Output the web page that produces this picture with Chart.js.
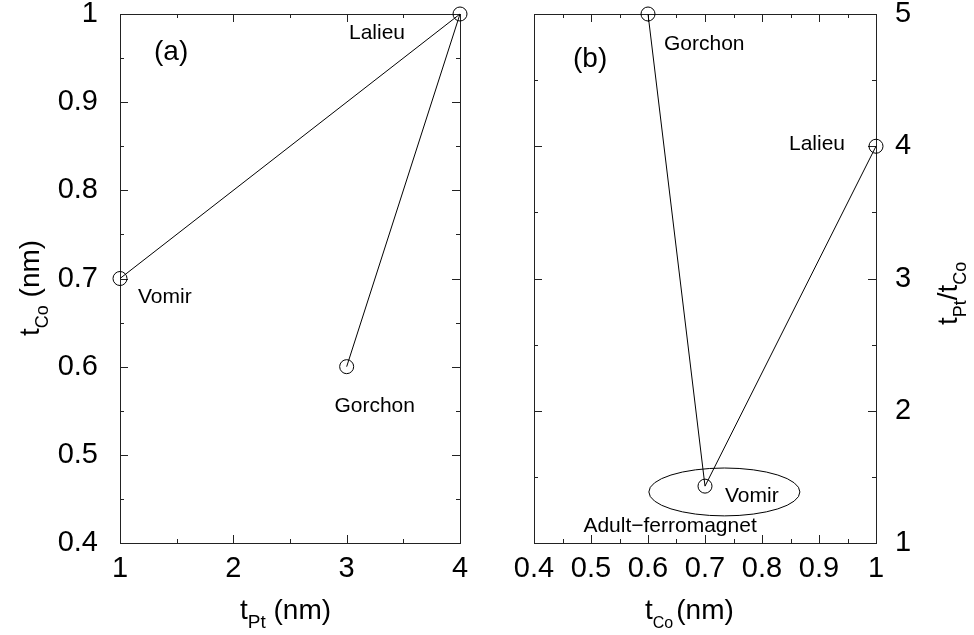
<!DOCTYPE html>
<html>
<head>
<meta charset="utf-8">
<script src="https://cdn.jsdelivr.net/npm/chart.js@4"></script>
<style>
  body { margin: 0; background: #fff; }
  #wrap { position: relative; width: 974px; height: 635px; }
  canvas { position: absolute; top: 0; }
  #chartA { left: 0; }
  #chartB { left: 487px; }
</style>
</head>
<body>
<div id="wrap">
  <canvas id="chartA" width="487" height="635"></canvas>
  <canvas id="chartB" width="487" height="635"></canvas>
</div>
<script>
// panel (a): t_Co against t_Pt
const aNames = ["Vomir", "Lalieu", "Gorchon"];
const aPt = [1, 4, 3];
const aCo = [0.7, 1.0, 0.6];
const aXTicks = [1, 2, 3, 4];
const aYTicks = [0.4, 0.5, 0.6, 0.7, 0.8, 0.9, 1];

// panel (b): t_Pt/t_Co against t_Co
const bNames = ["Gorchon", "Vomir", "Lalieu"];
const bCo = [0.6, 0.7, 1.0];
const bRatio = [5, 1.43, 4];
const bXTicks = [0.4, 0.5, 0.6, 0.7, 0.8, 0.9, 1];
const bYTicks = [1, 2, 3, 4, 5];

// region drawn round Vomir in (b), in data units
const regionLabel = "Adult\u2212ferromagnet";
const regionCentre = [0.734, 1.386];
const regionRadii = [0.1325, 0.181];

const FONT = '"Liberation Sans", Arial, Helvetica, sans-serif';

// text with subscripts: "_xx" is a subscript, a number is a gap in px
function richText(ctx, parts, x, y, size, subSize) {
    let cx = x;
    parts.forEach(p => {
        if (typeof p === "number") { cx += p; return; }
        const sub = p.startsWith("_");
        const txt = sub ? p.slice(1) : p;
        ctx.font = (sub ? subSize : size) + "px " + FONT;
        ctx.fillText(txt, cx, sub ? y + 9 : y);
        cx += ctx.measureText(txt).width;
    });
}

function drawTicks(ctx, scale, area, isX) {
    const vals = scale.ticks.map(t => t.value);
    const minor = [];
    for (let i = 0; i < vals.length - 1; i++) minor.push((vals[i] + vals[i + 1]) / 2);
    const one = (v, len) => {
        const p = Math.round(scale.getPixelForValue(v)) + 0.5;
        ctx.beginPath();
        if (isX) {
            ctx.moveTo(p, area.bottom); ctx.lineTo(p, area.bottom - len);
            ctx.moveTo(p, area.top); ctx.lineTo(p, area.top + len);
        } else {
            ctx.moveTo(area.left, p); ctx.lineTo(area.left + len, p);
            ctx.moveTo(area.right, p); ctx.lineTo(area.right - len, p);
        }
        ctx.stroke();
    };
    vals.forEach(v => one(v, 8));
    minor.forEach(v => one(v, 4));
}

function decor(cfg) {
    return {
        id: "decor",
        beforeDatasetsDraw(chart) {
            const ctx = chart.ctx, a = chart.chartArea;
            ctx.save();
            ctx.strokeStyle = "#222";
            ctx.lineWidth = 1;
            ctx.strokeRect(a.left + 0.5, a.top + 0.5, a.right - a.left, a.bottom - a.top);
            drawTicks(ctx, chart.scales.x, a, true);
            drawTicks(ctx, chart.scales.y, a, false);
            if (cfg.ellipse) {
                const sx = chart.scales.x, sy = chart.scales.y;
                const cx = sx.getPixelForValue(regionCentre[0]);
                const cy = sy.getPixelForValue(regionCentre[1]);
                const rx = sx.getPixelForValue(regionCentre[0] + regionRadii[0]) - cx;
                const ry = cy - sy.getPixelForValue(regionCentre[1] + regionRadii[1]);
                ctx.strokeStyle = "#000";
                ctx.beginPath();
                ctx.ellipse(cx, cy, rx, ry, 0, 0, Math.PI * 2);
                ctx.stroke();
                ctx.fillStyle = "#000";
                ctx.font = "21px " + FONT;
                ctx.textAlign = "left";
                ctx.fillText(regionLabel, cx - 141, cy + 40);
            }
            ctx.restore();
        },
        afterDraw(chart) {
            const ctx = chart.ctx, a = chart.chartArea;
            const meta = chart.getDatasetMeta(0);
            ctx.save();
            ctx.fillStyle = "#000";
            ctx.textBaseline = "alphabetic";
            // point names
            ctx.font = "21px " + FONT;
            cfg.names.forEach((n, i) => {
                const pt = meta.data[i];
                const o = cfg.offsets[n];
                ctx.textAlign = o[2];
                ctx.fillText(n, pt.x + o[0], pt.y + o[1]);
            });
            // panel tag
            ctx.textAlign = "left";
            ctx.font = "28px " + FONT;
            ctx.fillText(cfg.tag, a.left + cfg.tagPos[0], a.top + cfg.tagPos[1]);
            // x title
            richText(ctx, cfg.xTitle, cfg.xTitlePos[0], cfg.xTitlePos[1], 28, cfg.xSub);
            // y title, rotated
            ctx.translate(cfg.yTitlePos[0], cfg.yTitlePos[1]);
            ctx.rotate(-Math.PI / 2);
            richText(ctx, cfg.yTitle, 0, 0, 28, 18);
            ctx.restore();
        }
    };
}

function tickAxis(list, size, pad) {
    return {
        type: "linear",
        min: list[0],
        max: list[list.length - 1],
        afterBuildTicks: s => { s.ticks = list.map(v => ({ value: v })); },
        afterFit: s => {
            if (s.isHorizontal()) s.height = size; else s.width = size;
            // keep the plot box where the layout padding puts it
            s.paddingLeft = s.paddingRight = s.paddingTop = s.paddingBottom = 0;
        },
        grid: { display: false, drawTicks: false },
        border: { display: false },
        ticks: {
            color: "#000",
            font: { family: FONT, size: 29 },
            padding: pad,
            callback: v => String(v),
            maxRotation: 0,
            autoSkip: false
        }
    };
}

function lineSet(xs, ys) {
    return {
        data: xs.map((x, i) => ({ x: x, y: ys[i] })),
        showLine: true,
        borderColor: "#000",
        borderWidth: 1,
        tension: 0,
        pointRadius: 7,
        pointBorderWidth: 1,
        pointBorderColor: "#000",
        pointBackgroundColor: "rgba(0,0,0,0)",
        clip: false
    };
}

const common = {
    responsive: false,
    animation: false,
    events: [],
    plugins: { legend: { display: false }, tooltip: { enabled: false } }
};

const yA = tickAxis(aYTicks, 120, 22);
yA.position = "left";

new Chart(document.getElementById("chartA"), {
    type: "scatter",
    data: { datasets: [lineSet(aPt, aCo)] },
    options: Object.assign({}, common, {
        layout: { padding: { top: 14, right: 27, left: 0, bottom: 0 } },
        scales: { x: tickAxis(aXTicks, 92, 9), y: yA }
    }),
    plugins: [decor({
        names: aNames,
        offsets: { Vomir: [18, 24, "left"], Lalieu: [-55, 25, "right"], Gorchon: [28, 45, "center"] },
        tag: "(a)", tagPos: [34, 46],
        xTitle: ["t", "_Pt", " (nm)"], xTitlePos: [240, 619], xSub: 19,
        yTitle: ["t", "_Co", " (nm)"], yTitlePos: [39, 336]
    })]
});

const yB = tickAxis(bYTicks, 98, 19);
yB.position = "right";

new Chart(document.getElementById("chartB"), {
    type: "scatter",
    data: { datasets: [lineSet(bCo, bRatio)] },
    options: Object.assign({}, common, {
        layout: { padding: { top: 14, right: 0, left: 47, bottom: 0 } },
        scales: { x: tickAxis(bXTicks, 92, 9), y: yB }
    }),
    plugins: [decor({
        names: bNames,
        offsets: { Gorchon: [16, 36, "left"], Lalieu: [-31, 4, "right"], Vomir: [20, 16, "left"] },
        tag: "(b)", tagPos: [39, 53],
        xTitle: ["t", "_Co", 3, "(nm)"], xTitlePos: [645 - 487, 619], xSub: 16,
        ellipse: true,
        yTitle: ["t", "_Pt", "/t", "_Co"], yTitlePos: [957 - 487, 325]
    })]
});
</script>
</body>
</html>
